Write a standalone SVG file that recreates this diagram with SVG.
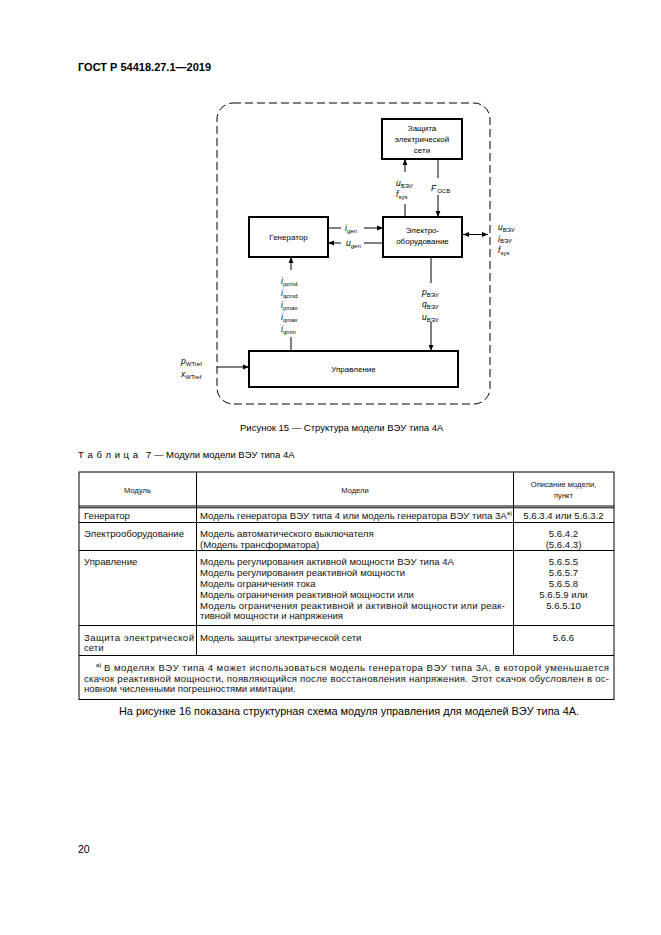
<svg xmlns="http://www.w3.org/2000/svg" width="661" height="935" viewBox="0 0 661 935">
<style>
text{font-family:"Liberation Sans",Arial,sans-serif;fill:#000}
.hd{font-size:11px;font-weight:bold}
.bx{fill:#fff;stroke:#000;stroke-width:2}
.bt{font-size:8px;text-anchor:middle}
.lb{font-size:8.5px;font-style:italic}
.sb{font-size:6px;font-style:normal}
.ln{fill:none;stroke:#000;stroke-width:1}
.cap{font-size:9.5px}
.tb{font-size:9.6px;fill:#111}
.th{font-size:7.6px;text-anchor:middle;fill:#111}
.tl{fill:none;stroke:#000;stroke-width:1}
.c{text-anchor:middle}
</style>
<defs>
<marker id="ah" viewBox="0 0 6 6" refX="6" refY="3" markerWidth="6" markerHeight="6" markerUnits="userSpaceOnUse" orient="auto-start-reverse">
<path d="M0,0.6 L6,3 L0,5.4 z" fill="#000"/>
</marker>
</defs>
<rect width="661" height="935" fill="#fff"/>
<text class="hd" x="78" y="71">ГОСТ Р 54418.27.1—2019</text>

<path id="boundary" d="M233,103 H474 A16,16 0 0 1 490,119 V388 A16,16 0 0 1 474,404 H233 A16,16 0 0 1 217,388 V119 A16,16 0 0 1 233,103 Z" fill="none" stroke="#000" stroke-width="1" stroke-dasharray="8,4"/>

<g id="node-protection">
<rect class="bx" x="382" y="119" width="80" height="40"/>
<text class="bt" x="422" y="131">Защита</text>
<text class="bt" x="422" y="142">электрической</text>
<text class="bt" x="422" y="153">сети</text>
</g>
<g id="node-generator">
<rect class="bx" x="249" y="217" width="79" height="40"/>
<text class="bt" x="288.5" y="239.5">Генератор</text>
</g>
<g id="node-electro">
<rect class="bx" x="383" y="217" width="79" height="40"/>
<text class="bt" x="422.5" y="233">Электро-</text>
<text class="bt" x="422.5" y="244">оборудование</text>
</g>
<g id="node-control">
<rect class="bx" x="249" y="351" width="209" height="36"/>
<text class="bt" x="353.5" y="372">Управление</text>
</g>

<g id="connectors">
<path class="ln" d="M405,217 V204"/>
<path class="ln" d="M405,172 V159" marker-end="url(#ah)"/>
<path class="ln" d="M438,159 V178"/>
<path class="ln" d="M438,195 V217" marker-end="url(#ah)"/>
<path class="ln" d="M328,228 H341"/>
<path class="ln" d="M364,228 H383" marker-end="url(#ah)"/>
<path class="ln" d="M383,243 H364"/>
<path class="ln" d="M341,243 H328" marker-end="url(#ah)"/>
<path class="ln" d="M463,234.5 H488" marker-start="url(#ah)" marker-end="url(#ah)"/>
<path class="ln" d="M291,351 V337"/>
<path class="ln" d="M291,270 V257" marker-end="url(#ah)"/>
<path class="ln" d="M431,257 V283"/>
<path class="ln" d="M431,322 V351" marker-end="url(#ah)"/>
<path class="ln" d="M217,367 H249" marker-end="url(#ah)"/>
</g>

<g id="labels">
<text class="lb" x="396" y="186">u<tspan class="sb" dy="1.5">ВЭУ</tspan></text>
<text class="lb" x="396" y="197">f<tspan class="sb" dy="1.5">sys</tspan></text>
<text class="lb" x="431" y="191">F<tspan class="sb" dy="1.5" dx="1">OCB</tspan></text>
<text class="lb" x="345" y="231">i<tspan class="sb" dy="1.5">gen</tspan></text>
<text class="lb" x="346" y="246">u<tspan class="sb" dy="1.5">gen</tspan></text>
<text class="lb" x="498" y="230">u<tspan class="sb" dy="1.5">ВЭУ</tspan></text>
<text class="lb" x="498" y="241.5">i<tspan class="sb" dy="1.5">ВЭУ</tspan></text>
<text class="lb" x="498" y="253">f<tspan class="sb" dy="1.5">sys</tspan></text>
<text class="lb" x="281" y="284">i<tspan class="sb" dy="1.5">pcmd</tspan></text>
<text class="lb" x="281" y="296">i<tspan class="sb" dy="1.5">qcmd</tspan></text>
<text class="lb" x="281" y="308">i<tspan class="sb" dy="1.5">pmax</tspan></text>
<text class="lb" x="281" y="320">i<tspan class="sb" dy="1.5">qmax</tspan></text>
<text class="lb" x="281" y="332">i<tspan class="sb" dy="1.5">qmin</tspan></text>
<text class="lb" x="422" y="295">p<tspan class="sb" dy="1.5">ВЭУ</tspan></text>
<text class="lb" x="422" y="307">q<tspan class="sb" dy="1.5">ВЭУ</tspan></text>
<text class="lb" x="422" y="320">u<tspan class="sb" dy="1.5">ВЭУ</tspan></text>
<text class="lb" x="181" y="364">p<tspan class="sb" dy="1.5">WTref</tspan></text>
<text class="lb" x="181" y="377">x<tspan class="sb" dy="1.5">WTref</tspan></text>
</g>

<text class="cap" x="240" y="431">Рисунок 15 — Структура модели ВЭУ типа 4А</text>

<text class="cap" x="78" y="458" textLength="60" lengthAdjust="spacing">Т а б л и ц а</text>
<text class="cap" x="146" y="458">7 — Модули модели ВЭУ типа 4А</text>

<g id="table">
<rect class="tl" x="79" y="472" width="535" height="227.5"/>
<path class="tl" d="M79,506 H614 M79,507.8 H614 M79,522.5 H614 M79,550.5 H614 M79,625.5 H614 M79,655.5 H614 M196.5,472 V655.5 M513.5,472 V655.5"/>
<text class="th" x="137.5" y="493">Модуль</text>
<text class="th" x="355" y="493">Модели</text>
<text class="th" x="563.5" y="487">Описание модели,</text>
<text class="th" x="563.5" y="498">пункт</text>

<text class="tb" x="84" y="518.5">Генератор</text>
<text class="tb" x="200" y="518.5">Модель генератора ВЭУ типа 4 или модель генератора ВЭУ типа 3А<tspan font-size="6" dy="-4">а)</tspan></text>
<text class="tb c" x="563.5" y="518.5">5.6.3.4 или 5.6.3.2</text>

<text class="tb" x="84" y="537">Электрооборудование</text>
<text class="tb" x="200" y="537">Модель автоматического выключателя</text>
<text class="tb" x="200" y="547.5">(Модель трансформатора)</text>
<text class="tb c" x="563.5" y="537">5.6.4.2</text>
<text class="tb c" x="563.5" y="547.5">(5.6.4.3)</text>

<text class="tb" x="84" y="565">Управление</text>
<text class="tb" x="200" y="565">Модель регулирования активной мощности ВЭУ типа 4А</text>
<text class="tb" x="200" y="576">Модель регулирования реактивной мощности</text>
<text class="tb" x="200" y="587">Модель ограничения тока</text>
<text class="tb" x="200" y="598">Модель ограничения реактивной мощности или</text>
<text class="tb" x="200" y="608.5" textLength="305" lengthAdjust="spacing">Модель ограничения реактивной и активной мощности или реак-</text>
<text class="tb" x="200" y="619">тивной мощности и напряжения</text>
<text class="tb c" x="563.5" y="565">5.6.5.5</text>
<text class="tb c" x="563.5" y="576">5.6.5.7</text>
<text class="tb c" x="563.5" y="587">5.6.5.8</text>
<text class="tb c" x="563.5" y="598">5.6.5.9 или</text>
<text class="tb c" x="563.5" y="608.5">5.6.5.10</text>

<text class="tb" x="84" y="641" textLength="110" lengthAdjust="spacing">Защита электрической</text>
<text class="tb" x="84" y="651">сети</text>
<text class="tb" x="200" y="641">Модель защиты электрической сети</text>
<text class="tb c" x="563.5" y="641">5.6.6</text>

<text font-size="6" x="96" y="667">а)</text>
<text class="tb" x="104" y="671" textLength="505" lengthAdjust="spacing">В моделях ВЭУ типа 4 может использоваться модель генератора ВЭУ типа 3А, в которой уменьшается</text>
<text class="tb" x="84" y="681.5" textLength="525" lengthAdjust="spacing">скачок реактивной мощности, появляющийся после восстановления напряжения. Этот скачок обусловлен в ос-</text>
<text class="tb" x="84" y="692">новном численными погрешностями имитации.</text>
</g>

<text x="119" y="715" font-size="10.3" textLength="460" lengthAdjust="spacingAndGlyphs">На рисунке 16 показана структурная схема модуля управления для моделей ВЭУ типа 4А.</text>

<text x="78" y="853" font-size="10.5">20</text>
</svg>
